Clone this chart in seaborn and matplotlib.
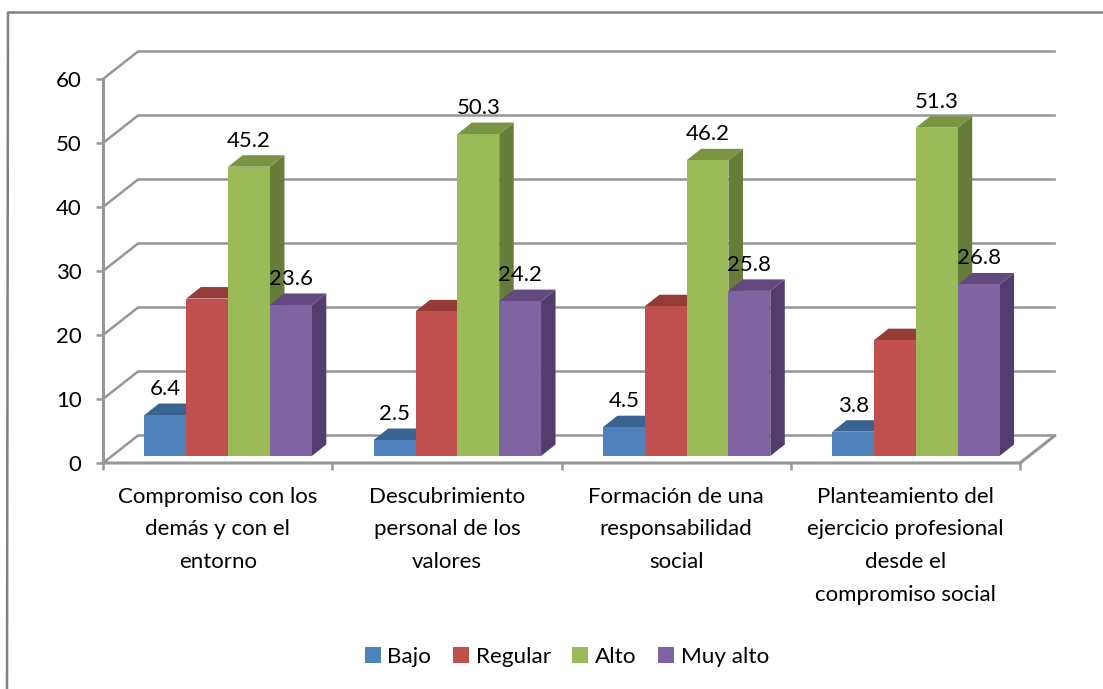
import matplotlib
matplotlib.use("Agg")
import matplotlib.pyplot as plt
from matplotlib.lines import Line2D
import seaborn as sns
import pandas as pd

sns.set_theme(style="white")
plt.rcParams['font.family'] = ['Lato', 'DejaVu Sans']

categories = ["Compromiso con los\ndemás y con el\nentorno",
              "Descubrimiento\npersonal de los\nvalores",
              "Formación de una\nresponsabilidad\nsocial",
              "Planteamiento del\nejercicio profesional\ndesde el\ncompromiso social"]
series = ["Bajo", "Regular", "Alto", "Muy alto"]
bajo = [6.4, 2.5, 4.5, 3.8]
regular = [24.6, 22.6, 23.4, 18.1]
alto = [45.2, 50.3, 46.2, 51.3]
muy_alto = [23.6, 24.2, 25.8, 26.8]
y_ticks = [0, 10, 20, 30, 40, 50, 60]
labelled = ["Bajo", "Alto", "Muy alto"]

front = ["#4F81BD", "#C0504D", "#9BBB59", "#8064A2"]
top = ["#3B6392", "#953C39", "#7A9444", "#62497F"]
side = ["#33557F", "#7F3230", "#667D39", "#533D6C"]
GRID = "#969696"
FS = 16

W, H = 1103, 689
fig = plt.figure(figsize=(W / 100, H / 100), dpi=100, facecolor="white")

def box(l, t, r, b):
    return [l / W, 1 - b / H, (r - l) / W, (b - t) / H]

# frame (grey border on the left and top only)
fig.add_artist(Line2D([7 / W, 8 / W, 1 ], [0, 1 - 12.5 / H, 1 - 12.5 / H],
                      color="#808080", lw=1.8))

L, R, T, B = 103, 1020, 79, 463
wall_dx, wall_dy = 35, 27.5
ax = fig.add_axes(box(L, T, R, B))
ax.set_xlim(-0.5, len(categories) - 0.5)
ax.set_ylim(0, 60)
ax.patch.set_alpha(0)
for s in ax.spines.values():
    s.set_visible(False)
ux = (len(categories)) / (R - L)
uy = 60 / (B - T)
dx, dy = wall_dx * ux, wall_dy * uy
x0, x1 = -0.5, len(categories) - 0.5
for v in y_ticks:
    ax.plot([x0, x0 + dx, x1 + dx], [v, v + dy, v + dy], color=GRID, lw=1.8,
            clip_on=False, zorder=1, solid_joinstyle="miter")
ax.plot([x0, x1, x1 + dx], [0, 0, dy], color=GRID, lw=2.2, clip_on=False, zorder=1)
ax.plot([x0, x0], [0, 60], color=GRID, lw=2.2, clip_on=False, zorder=1)
ax.set_xticks([i - 0.5 for i in range(len(categories) + 1)], [""] * (len(categories) + 1))
ax.set_xticks(range(len(categories)), categories, minor=True)
ax.tick_params(axis="x", which="major", length=5, width=1.8, color=GRID, bottom=True, direction="out")
ax.tick_params(axis="x", which="minor", length=0, pad=17, labelsize=FS, labelcolor="black")
for t in ax.get_xticklabels(minor=True):
    t.set_linespacing(1.8)
    t.set_verticalalignment("top")
ax.set_yticks(y_ticks, [str(v) for v in y_ticks])
ax.tick_params(axis="y", length=5, width=1.8, color=GRID, left=True, direction="out",
               labelsize=FS, labelcolor="black", pad=10.5)
ax.set_xlabel("")
ax.set_ylabel("")

# bars live on a twin layer shifted into the depth of the floor
df = pd.DataFrame({
    "cat": categories * 4,
    "serie": [s for s in series for _ in categories],
    "valor": bajo + regular + alto + muy_alto,
})
ax2 = fig.add_axes(box(L + 10.5, T - 7, R + 10.5, B - 7))
ax2.patch.set_alpha(0)
sns.barplot(data=df, x="cat", y="valor", hue="serie", hue_order=series, palette=front,
            order=categories, width=0.73, saturation=1, errorbar=None, legend=False,
            ax=ax2, edgecolor="none", linewidth=0)
ax2.set_xlim(-0.5, len(categories) - 0.5)
ax2.set_ylim(0, 60)
ax2.axis("off")

bar_dx, bar_dy = 14.5 * ux, 11.5 * uy
n_c = len(categories)
for i, name in enumerate(series):
    for j in range(n_c):
        p = ax2.containers[i][j]
        x, w, h = p.get_x(), p.get_width(), p.get_height()
        z = 10 + j * 10 + i * 2
        p.set_zorder(z + 1)
        ax2.fill([x + w, x + w + bar_dx, x + w + bar_dx, x + w],
                 [0, bar_dy, h + bar_dy, h], color=side[i], lw=0, zorder=z, clip_on=False)
        ax2.fill([x, x + bar_dx, x + w + bar_dx, x + w],
                 [h, h + bar_dy, h + bar_dy, h], color=top[i], lw=0, zorder=z, clip_on=False)
        if name in labelled:
            ax2.annotate(f"{h:.1f}", (x + w / 2, h), xytext=(0, 26 * 0.72), textcoords="offset points",
                         ha="center", va="center", fontsize=FS, color="black", zorder=100,
                         annotation_clip=False)

handles = [plt.Rectangle((0, 0), 1, 1, facecolor=c, edgecolor="none") for c in front]
fig.legend(handles, series, loc="center", bbox_to_anchor=(567 / W, 1 - 657 / H), ncol=4,
           frameon=False, fontsize=16.2, handlelength=0.72, handleheight=0.72,
           handletextpad=0.3, columnspacing=0.95, labelcolor="black")

fig.savefig("out.png", dpi=100, facecolor="white")
